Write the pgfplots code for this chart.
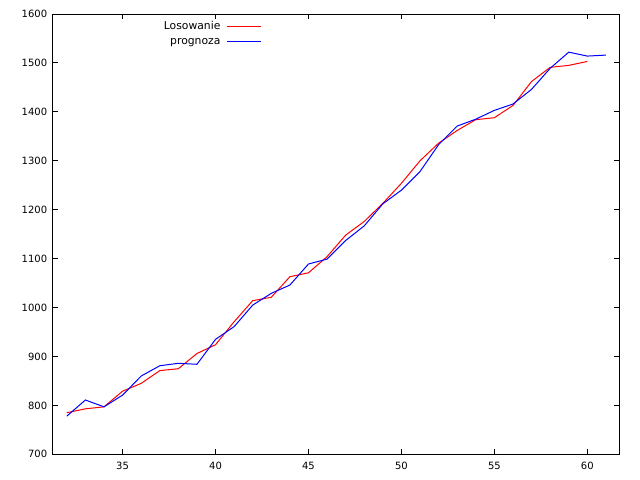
\documentclass[border=0pt]{standalone}
\usepackage{fontspec}
\setmainfont{DejaVu Sans}
\usepackage{pgfplots}
\pgfplotsset{compat=1.18}

\begin{document}
\begin{tikzpicture}
\fontsize{10bp}{12bp}\selectfont
\path[use as bounding box] (-52.7bp,-25.7bp) rectangle (587.3bp,454.3bp);
\begin{axis}[
    at={(0,0)}, anchor=south west,
    scale only axis,
    width=566.6bp, height=440.3bp,
    xmin=31.24, xmax=61.72,
    ymin=700, ymax=1600,
    xtick={35,40,45,50,55,60},
    ytick={700,800,...,1600},
    minor tick num=0,
    major tick length=5bp,
    axis line style={line width=1bp},
    tick style={line width=1bp, black},
    /pgf/number format/assume math mode=true,
    /pgf/number format/1000 sep={},
    tick label style={font=\fontsize{10bp}{12bp}\selectfont},
    xticklabel style={yshift=-4bp},
    yticklabel style={xshift=-2bp},
    legend plot pos=right,
    legend cell align=right,
    legend image code/.code={\draw[#1] (0bp,0bp) -- (34bp,0bp);},
    legend style={
        draw=none, fill=none,
        at={(0.3694,0.9880)}, anchor=north east,
        inner sep=0pt, row sep=0pt, column sep=4bp,
        font=\fontsize{10.8bp}{12bp}\selectfont,
        nodes={inner sep=2.35bp, text height=7.5bp, text depth=2.5bp},
    },
]

\addplot[color=red, line width=1bp] coordinates {
    (32,785) (33,793) (34,797) (35,829) (36,845) (37,871) (38,875)
    (39,906) (40,924) (41,971) (42,1014) (43,1021) (44,1063) (45,1071)
    (46,1104) (47,1148) (48,1176) (49,1213) (50,1254) (51,1300)
    (52,1336) (53,1362) (54,1384) (55,1388) (56,1413) (57,1462)
    (58,1491) (59,1495) (60,1503)
};
\addlegendentry{Losowanie}

\addplot[color=blue, line width=1bp] coordinates {
    (32,778) (33,811) (34,797) (35,821) (36,860) (37,881) (38,886)
    (39,884) (40,935) (41,961) (42,1005) (43,1029) (44,1046) (45,1089)
    (46,1099) (47,1137) (48,1167) (49,1212) (50,1240) (51,1278)
    (52,1333) (53,1371) (54,1385) (55,1403) (56,1416) (57,1446)
    (58,1489) (59,1522) (60,1514) (61,1516)
};
\addlegendentry{prognoza}

\end{axis}
\end{tikzpicture}
\end{document}
